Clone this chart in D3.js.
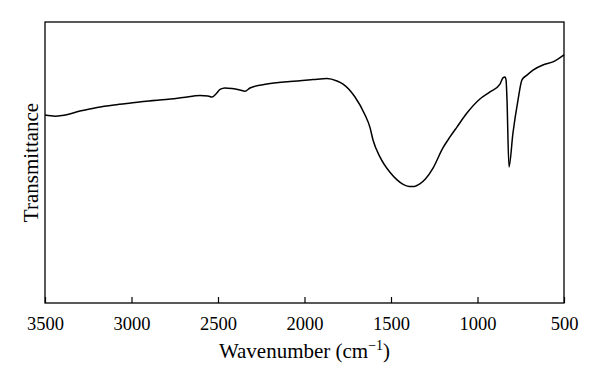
<!DOCTYPE html>
<html>
<head>
<meta charset="utf-8">
<script src="https://cdn.jsdelivr.net/npm/d3@7"></script>
<style>
    body { margin: 0; background: #fff; }
    svg { display: block; }
</style>
</head>
<body>
<div id="chart"></div>
<script>
// FTIR spectrum, values
const wavenumber = [3500, 3442, 3402, 3298, 3199, 3101, 3003, 2899, 2801, 2702, 2604, 2558, 2535, 2512,
    2488, 2460, 2419, 2373, 2344, 2315, 2217, 2084, 1951, 1870, 1812, 1777, 1708, 1650, 1622, 1604,
    1564, 1506, 1465, 1430, 1395, 1365, 1335, 1300, 1257, 1200, 1159, 1119, 1061, 986, 928, 870, 853, 841, 835,
    830, 818, 795, 766, 743, 714, 679, 622, 564, 500];
const transmittance = [66.9, 66.5, 66.7, 68.3, 69.6, 70.5, 71.2, 71.9, 72.4, 73.1, 73.8, 73.7, 73.3, 74.4,
    76.0, 76.5, 76.3, 75.8, 75.4, 76.5, 77.9, 78.8, 79.5, 79.9, 79.0, 77.9, 73.3, 66.9, 62.6, 58.0,
    52.0, 46.5, 43.8, 42.2, 41.5, 41.5, 42.3, 44.2, 48.0, 55.2, 59.1, 62.6, 67.6, 72.6, 75.1, 77.9, 80.1, 80.4, 79.4,
    73.3, 48.4, 60.5, 72.2, 79.4, 81.1, 82.9, 84.7, 85.8, 88.3];
const xTicks = [3500, 3000, 2500, 2000, 1500, 1000, 500];

const width = 600, height = 383;
const margin = {top: 22, right: 36, bottom: 80, left: 45};
const w = width - margin.left - margin.right;
const h = height - margin.top - margin.bottom;
const serif = "'Liberation Serif', 'DejaVu Serif', serif";

const svg = d3.select("#chart").append("svg")
    .attr("width", width)
    .attr("height", height);

const g = svg.append("g")
    .attr("transform", `translate(${margin.left},${margin.top})`);

const x = d3.scaleLinear().domain([3500, 500]).range([0, w]);
const y = d3.scaleLinear().domain([0, 100]).range([h, 0]);

// frame
g.append("rect")
    .attr("width", w)
    .attr("height", h)
    .attr("fill", "none")
    .attr("stroke", "#000")
    .attr("stroke-width", 1.3);

// x axis, ticks pointing inward
const xAxis = g.append("g")
    .attr("transform", `translate(0,${h})`)
    .call(d3.axisBottom(x).tickValues(xTicks).tickFormat(d3.format("d"))
        .tickSizeInner(-6).tickSizeOuter(0).tickPadding(14))
    .attr("font-family", serif)
    .attr("font-size", 18.5);
xAxis.select(".domain").remove();
xAxis.selectAll("line").attr("stroke", "#000").attr("stroke-width", 1.2);
xAxis.selectAll("text").attr("fill", "#000").attr("font-family", serif);

// spectrum
const data = wavenumber.map((d, i) => ({wn: d, t: transmittance[i]}));
const line = d3.line()
    .x(d => x(d.wn))
    .y(d => y(d.t))
    .curve(d3.curveMonotoneX);

g.append("path")
    .datum(data)
    .attr("d", line)
    .attr("fill", "none")
    .attr("stroke", "#000")
    .attr("stroke-width", 1.5);

// axis labels
const xLabel = svg.append("text")
    .attr("x", margin.left + w / 2)
    .attr("y", 358)
    .attr("text-anchor", "middle")
    .attr("font-family", serif)
    .attr("font-size", 21)
    .attr("fill", "#000");
xLabel.append("tspan").text("Wavenumber (cm");
xLabel.append("tspan").attr("font-size", 14).attr("dy", -8).text("\u22121");
xLabel.append("tspan").attr("dy", 8).text(")");

svg.append("text")
    .attr("transform", `translate(38,${margin.top + h / 2}) rotate(-90)`)
    .attr("text-anchor", "middle")
    .attr("font-family", serif)
    .attr("font-size", 21)
    .attr("fill", "#000")
    .text("Transmittance");
</script>
</body>
</html>
